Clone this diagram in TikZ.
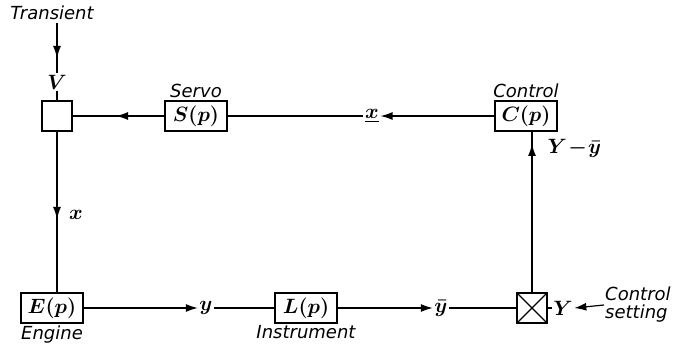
\documentclass[tikz,border=0pt]{standalone}
\usepackage{amsmath}
\usepackage{fontspec}
\newfontfamily\lettering{DejaVu Sans}
\usetikzlibrary{arrows.meta}

\tikzset{
  block/.style={draw, line width=1.1pt, minimum width=62pt, minimum height=30pt, inner sep=0pt},
  junction/.style={draw, line width=1.1pt, minimum size=30pt, inner sep=0pt},
  crossed/.style={path picture={
      \draw[line width=1.1pt] (path picture bounding box.north west) -- (path picture bounding box.south east);
      \draw[line width=1.1pt] (path picture bounding box.south west) -- (path picture bounding box.north east);}},
  word/.style={font=\fontsize{18}{18}\selectfont\lettering\itshape},
  signal/.style={inner sep=1.5pt},
  flow/.style={line width=1.2pt},
  tip/.style={-{Latex[length=12pt,width=8pt]}},
}

\begin{document}
\begin{tikzpicture}[x=1pt, y=-1pt, font=\fontsize{20.74}{24}\selectfont\boldmath]
    \useasboundingbox (0,0) rectangle (686,352);
    % top row
    \node[word] (transient) at (52,13) {Transient};
    \node[signal] (V) at (57,82) {$V$};
    \node[junction] (sum) at (57,116) {};
    \node[block] (servo) at (196,116) {$S(p)$};
    \node[word, above, inner sep=2pt] (servolab) at (servo.north) {Servo};
    \node[signal] (xsig) at (372,116) {$\underline{x}$};
    \node[block] (control) at (526,116) {$C(p)$};
    \node[word, above, inner sep=2pt] (controllab) at (control.north) {Control};
    % bottom row
    \node[block] (engine) at (52,308) {$E(p)$};
    \node[word, below, inner sep=2pt] (enginelab) at (engine.south) {Engine};
    \node[signal] (ysig) at (206,308) {$y$};
    \node[block] (instr) at (306,308) {$L(p)$};
    \node[word, below, inner sep=2pt] (instrlab) at (instr.south) {Instrument};
    \node[signal] (ybar) at (441,308) {$\bar{y}$};
    \node[junction, crossed] (cmp) at (532,308) {};
    \node[signal] (Ysig) at (563,308) {$Y$};
    \node[word, align=left, anchor=west, inner sep=1pt] (setting) at (604,305) {Control\\setting};
    % side labels
    \node[signal] (xlab) at (76,215) {$x$};
    \node[signal, anchor=west] (errlab) at (546,148) {$Y\!-\!\bar{y}$};
    % arrow points on the long runs
    \coordinate (vtip) at (57,58);
    \coordinate (toptip) at (116,116);
    \coordinate (lefttip) at (57,219);
    \coordinate (righttip) at (532,144);

    % connections
    \draw[flow] (transient.south -| V) -- (V.north);
    \draw[flow, tip] (transient.south -| V) -- (vtip);
    \draw[flow] (V.south) -- (sum.north);
    \draw[flow] (servo.west) -- (sum.east);
    \draw[flow, tip] (servo.west) -- (toptip);
    \draw[flow] (xsig.west) -- (servo.east);
    \draw[flow, tip] (control.west) -- (xsig.east);
    \draw[flow] (sum.south) -- (sum.south |- engine.north);
    \draw[flow, tip] (sum.south) -- (lefttip);
    \draw[flow, tip] (engine.east) -- (ysig.west);
    \draw[flow] (ysig.east) -- (instr.west);
    \draw[flow, tip] (instr.east) -- (ybar.west);
    \draw[flow] (ybar.east) -- (cmp.west);
    \draw[flow, tip] (setting.west) -- (Ysig.east);
    \draw[flow] (Ysig.west) -- (cmp.east);
    \draw[flow] (cmp.north) -- (cmp.north |- control.south);
    \draw[flow, tip] (cmp.north) -- (righttip);
\end{tikzpicture}
\end{document}
